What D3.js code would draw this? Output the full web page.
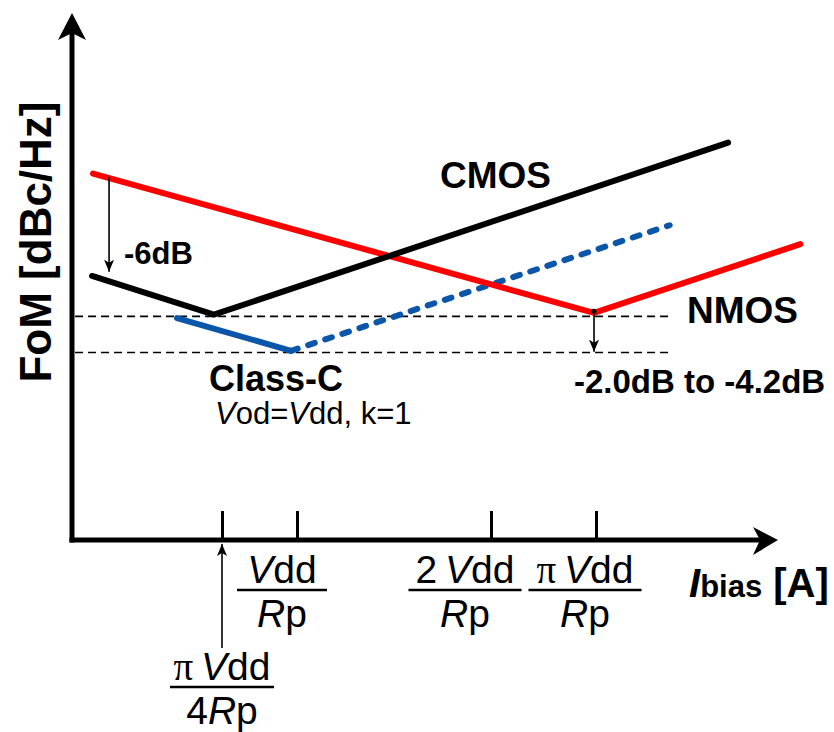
<!DOCTYPE html>
<html>
<head>
<meta charset="utf-8">
<script src="https://cdn.jsdelivr.net/npm/d3@7"></script>
<style>
  body { margin: 0; background: #fff; }
  svg { display: block; font-family: Arial, "Liberation Sans", sans-serif; }
</style>
</head>
<body>
<div id="chart"></div>
<script>
// x in units of Vdd/Rp (schematic, not to scale), y = relative FoM in dB
const tickValues = [Math.PI / 4, 1, 2, Math.PI];
const tickNum = ["π\u2009Vdd", "Vdd", "2\u2009Vdd", "π\u2009Vdd"];
const tickDen = ["4Rp", "Rp", "Rp", "Rp"];

const nmos = [[0.11, 21.3], [3.12, 13.2], [4.33, 17.2]];
const cmos = [[0.105, 15.35], [0.743, 13.1], [3.91, 23.1]];
const classC = [[0.55, 12.9], [0.983, 11.0]];
const classCext = [[0.983, 11.0], [3.57, 18.3]];
const refLevels = [13.0, 10.9];
const refSpan = [0.016, 3.58];
const gapCmos = [[0.194, 21.1], [0.194, 15.6]];
const gapNmos = [[3.12, 13.3], [3.12, 10.95]];

const W = 834, H = 732;

const svg = d3.select("#chart").append("svg")
  .attr("width", W)
  .attr("height", H);

// piecewise scale: the drawing squeezes the current axis
const x = d3.scaleLinear()
  .domain([0, Math.PI / 4, 1, 2, Math.PI, 4.2])
  .range([72, 222, 297, 491, 596, 778]);
const y = d3.scaleLinear().domain([0, 30]).range([540, 24]);

const line = d3.line().x(d => x(d[0])).y(d => y(d[1]));

svg.append("defs").append("marker")
  .attr("id", "head")
  .attr("markerUnits", "userSpaceOnUse")
  .attr("viewBox", "0 0 12 10")
  .attr("refX", 12).attr("refY", 5)
  .attr("markerWidth", 12).attr("markerHeight", 10)
  .attr("orient", "auto")
  .append("path")
  .attr("d", "M0,0 L12,5 L0,10 L3,5 Z")
  .attr("fill", "black");

// axes
const x0 = x(0), y0 = y(0);
svg.append("line")
  .attr("x1", x0 - 2.5).attr("y1", y0)
  .attr("x2", 760).attr("y2", y0)
  .attr("stroke", "black").attr("stroke-width", 5);
svg.append("line")
  .attr("x1", x0).attr("y1", y0 + 2.5)
  .attr("x2", x0).attr("y2", 32)
  .attr("stroke", "black").attr("stroke-width", 5);
svg.append("path")
  .attr("d", `M778,${y0} L753,527 L760,${y0} L753,555 Z`)
  .attr("fill", "black");
svg.append("path")
  .attr("d", `M${x0},13 L58,40 L${x0},33 L86,40 Z`)
  .attr("fill", "black");

const xAxis = svg.append("g")
  .attr("transform", `translate(0,${y0})`)
  .call(d3.axisBottom(x).tickValues(tickValues).tickSize(-29).tickSizeOuter(0).tickFormat(""));
xAxis.select(".domain").remove();
xAxis.selectAll(".tick line").attr("stroke", "black").attr("stroke-width", 3);

// reference levels
svg.selectAll(".ref")
  .data(refLevels)
  .enter()
  .append("line")
  .attr("class", "ref")
  .attr("x1", x(refSpan[0])).attr("x2", x(refSpan[1]))
  .attr("y1", d => y(d)).attr("y2", d => y(d))
  .attr("stroke", "black")
  .attr("stroke-width", 1.6)
  .attr("stroke-dasharray", "8,5");

// curves
svg.append("path").datum(classC)
  .attr("d", line).attr("fill", "none")
  .attr("stroke", "#0b56a8").attr("stroke-width", 6).attr("stroke-linecap", "round");
svg.append("path").datum(classCext)
  .attr("d", line).attr("fill", "none")
  .attr("stroke", "#0b56a8").attr("stroke-width", 6).attr("stroke-linecap", "round")
  .attr("stroke-dasharray", "7,11");
svg.append("path").datum(nmos)
  .attr("d", line).attr("fill", "none")
  .attr("stroke", "#ff0000").attr("stroke-width", 6).attr("stroke-linecap", "round");
svg.append("path").datum(cmos)
  .attr("d", line).attr("fill", "none")
  .attr("stroke", "black").attr("stroke-width", 6).attr("stroke-linecap", "round");

// gap arrows
[gapCmos, gapNmos].forEach(g => {
  svg.append("path").datum(g)
    .attr("d", line)
    .attr("stroke", "black").attr("stroke-width", 1.6)
    .attr("marker-end", "url(#head)");
});
svg.append("circle")
  .attr("cx", x(gapNmos[0][0])).attr("cy", y(gapNmos[0][1]))
  .attr("r", 2.5).attr("fill", "black");

// arrow pointing at the pi/4 tick from below
svg.append("line")
  .attr("x1", x(tickValues[0])).attr("y1", 648)
  .attr("x2", x(tickValues[0])).attr("y2", 544)
  .attr("stroke", "black").attr("stroke-width", 1.6)
  .attr("marker-end", "url(#head)");

// mixed-style text: V and R italic, pi in serif
function mathText(sel, str) {
  str.match(/π|[VR]|[^πVR]+/g).forEach(s => {
    const t = sel.append("tspan").text(s);
    if (s === "π") t.attr("font-family", "'Liberation Serif', 'Times New Roman', serif");
    if (s === "V" || s === "R") t.attr("font-style", "italic");
  });
  return sel;
}

// tick labels as fractions
const labelCx = [222, 282, 465, 585];
const labelTop = [680, 583, 583, 583];
const barW = [104, 90, 113, 113];
tickValues.forEach((v, i) => {
  const g = svg.append("g").attr("font-size", 39);
  mathText(g.append("text").attr("x", labelCx[i]).attr("y", labelTop[i]).attr("text-anchor", "middle"), tickNum[i]);
  g.append("line")
    .attr("x1", labelCx[i] - barW[i] / 2).attr("x2", labelCx[i] + barW[i] / 2)
    .attr("y1", labelTop[i] + 7).attr("y2", labelTop[i] + 7)
    .attr("stroke", "black").attr("stroke-width", 2.5);
  mathText(g.append("text").attr("x", labelCx[i]).attr("y", labelTop[i] + 44).attr("text-anchor", "middle"), tickDen[i]);
});

// axis titles
const xt = svg.append("text").attr("x", 689).attr("y", 597).attr("font-weight", "bold");
xt.append("tspan").attr("font-size", 40).attr("font-style", "italic").text("I");
xt.append("tspan").attr("font-size", 31).text("bias");
xt.append("tspan").attr("font-size", 40).text(" [A]");

svg.append("text")
  .attr("transform", "translate(51,242) rotate(-90)")
  .attr("text-anchor", "middle")
  .attr("font-size", 44).attr("font-weight", "bold")
  .text("FoM [dBc/Hz]");

// annotations
const notes = [
  { t: "CMOS", x: 440, y: 188, s: 37 },
  { t: "NMOS", x: 687, y: 323, s: 37 },
  { t: "-6dB", x: 124, y: 264, s: 31 },
  { t: "Class-C", x: 209, y: 391, s: 36 },
  { t: "-2.0dB to -4.2dB", x: 574, y: 393, s: 33 }
];
svg.selectAll(".note")
  .data(notes)
  .enter()
  .append("text")
  .attr("class", "note")
  .attr("x", d => d.x).attr("y", d => d.y)
  .attr("font-size", d => d.s)
  .attr("font-weight", "bold")
  .text(d => d.t);

mathText(svg.append("text").attr("x", 215).attr("y", 424).attr("font-size", 31), "Vod=Vdd, k=1");
</script>
</body>
</html>
